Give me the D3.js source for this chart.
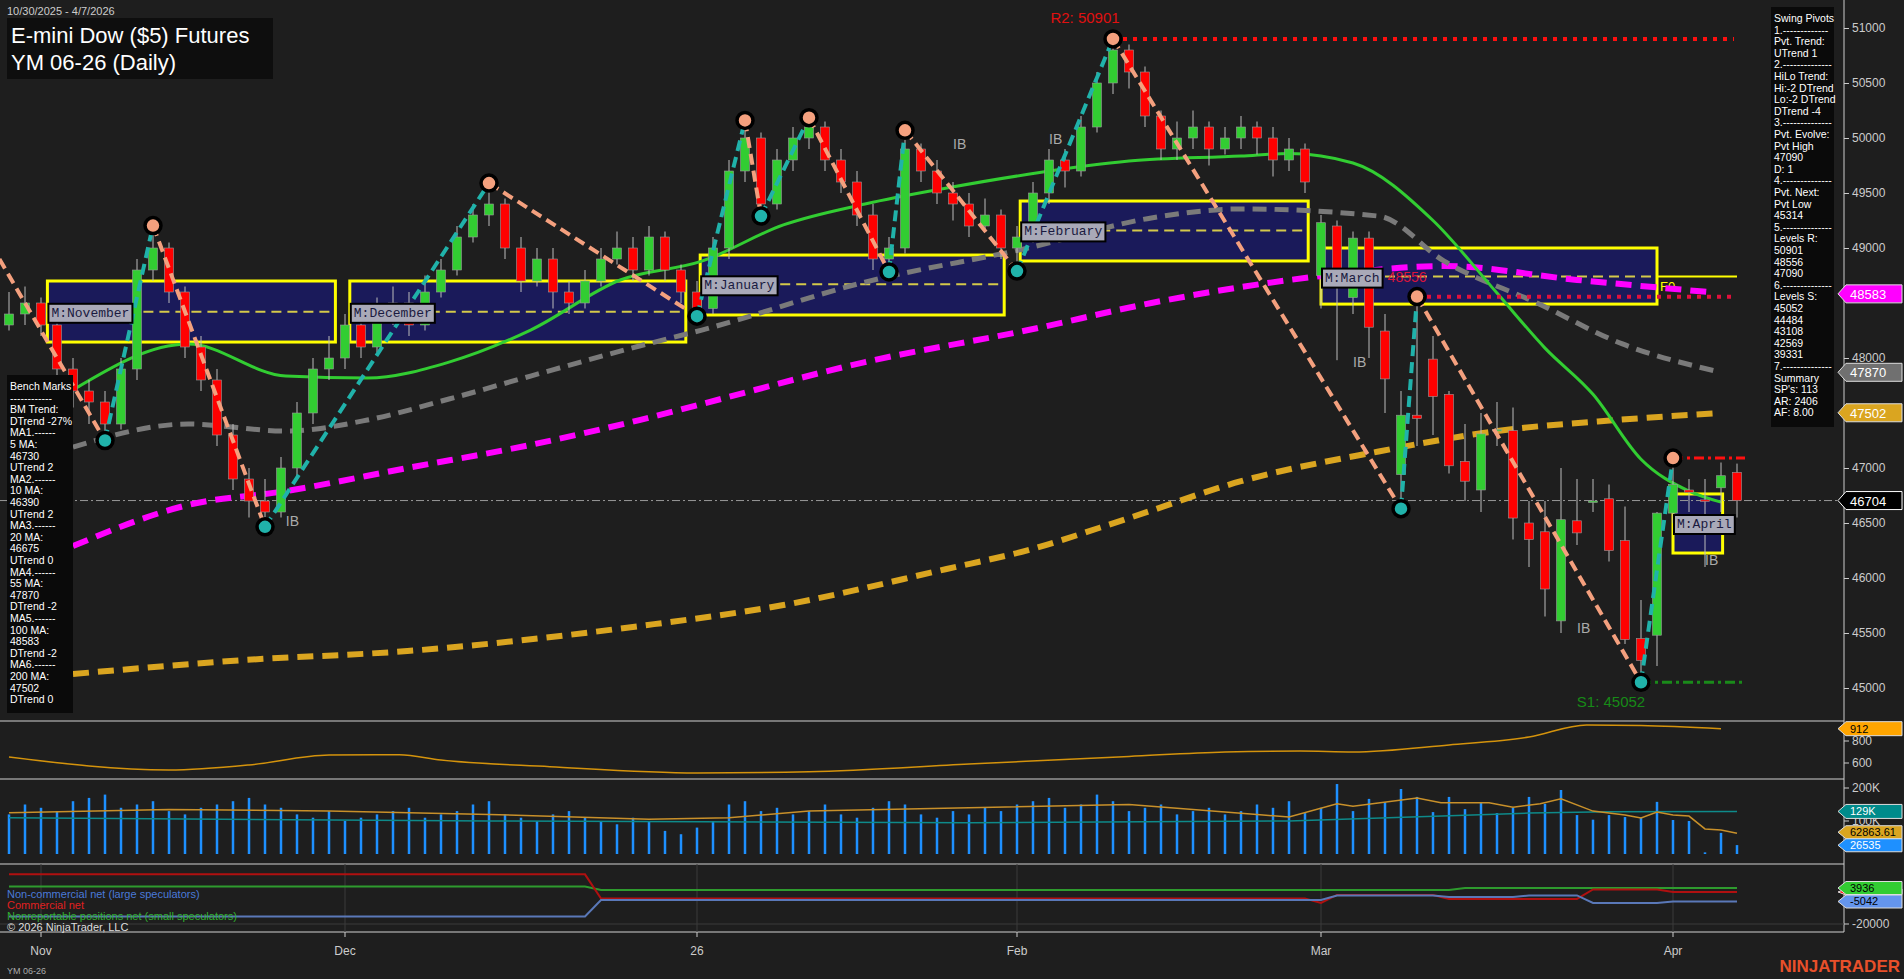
<!DOCTYPE html>
<html><head><meta charset="utf-8">
<script src="https://cdn.jsdelivr.net/npm/d3@7"></script>
<style>body{margin:0;background:#1e1e1e;overflow:hidden}svg{display:block;font-family:"Liberation Sans",Arial,sans-serif}</style>
</head><body><svg id="c" width="1904" height="979"></svg>
<script>
// ---------- DATA ----------
const closesA=[48400,48500,48300,47900,47700,47600,47400,47900,48800,49000,
48600,48100,47800,47300,46900,46700,46600,47000,47500,47900,
48000,48300,48100,48400,48500,48300,48600,48800,49100,49300,
49400,49000,48700,48900,48600,48500,48700,48900,49000,48800,
49100,48800,48600,48450,49000,49700,50000,49400,49800,50000,
50100,49800,49600,49300,48900,49000,49900,49700,49500,49400,
49200,49300,49000,49100,49500,49800,49700,50100,50500,50800,
50600,50200,49900,50000,50100,49900,50000,50100,50000,49800,49900,49600];
const highsA=[48600,48650,48550,48350,48000,47800,47700,48000,48900,49200,
49050,48650,48200,47900,47400,47000,46900,47100,47600,48000,
48200,48400,48400,48550,48650,48600,48750,48900,49200,49400,
49590,49450,49100,49000,49000,48700,48800,49000,49150,49100,
49200,49150,48850,48700,49100,49800,50150,50050,49900,50100,
50180,50150,49900,49700,49400,49100,50070,49950,49800,49600,
49500,49450,49350,49200,49600,49900,49900,50200,50600,50870,
50850,50650,50250,50150,50250,50150,50100,50200,50150,50100,50000,49950];
const lowsA=[48250,48300,48200,47800,47550,47400,47250,47350,47800,48700,
48500,48000,47700,47200,46800,46550,46470,46550,46900,47400,
47800,47900,48000,48050,48300,48200,48250,48550,48750,49050,
49200,48900,48600,48650,48450,48400,48450,48650,48850,48700,
48750,48700,48500,48370,48400,48900,49600,49280,49350,49700,
49900,49700,49500,49200,48800,48790,48950,49600,49400,49250,
49100,49150,48900,48790,49050,49400,49550,49650,50050,50400,
50450,50100,49800,49800,49900,49750,49850,49900,49850,49650,49700,49500];
// bars 82..108 as [open,high,low,close]
const tailOHLC=[[48750,49300,48450,49230],[49200,49250,47980,48800],[48550,49150,48400,49090],[49090,49150,48000,48280],
[48245,48400,47500,47810],[46940,47700,46630,47480],[47480,48558,47200,47450],[47990,48200,47300,47650],
[47670,47700,46950,47020],[47060,47400,46700,46880],[46800,47500,46600,47310],[47350,47600,47200,47350],
[47340,47550,46350,46545],[46500,46700,46100,46350],[46420,46700,45650,45900],[45610,47000,45500,46530],
[46520,46900,46300,46410],[46700,46900,46600,46700],[46720,46850,46150,46250],[46340,46650,45400,45440],
[45450,45800,45052,45250],[45480,46600,45200,46590],[46590,47090,46500,46850],[46800,46900,46600,46780],
[46710,46900,46100,46700],[46820,47050,46600,46930],[46960,47040,46550,46704]];
const volumeK=[120,150,140,130,160,170,180,140,150,160,
130,120,140,150,160,170,150,140,120,110,
130,100,110,120,130,140,110,120,130,150,
160,120,110,100,120,130,110,100,90,110,
100,70,60,80,100,150,160,130,140,120,
130,150,120,110,140,160,150,120,110,130,
120,140,130,150,160,170,140,150,180,160,
130,140,150,120,130,140,120,130,150,140,160,
124,140,212,130,167,157,197,173,127,173,136,155,124,140,173,152,194,118,104,118,112,110,158,103,100,5,64,27];
const volAvgPts=[[0,125],[10,135],[20,130],[30,120],[40,105],[45,110],[50,130],[60,140],[70,150],[78,120],[80,112],[83,152],[84,145],[88,170],[89.5,155],[92.5,155],[94,142],[95.7,152],[97,167],[99,130],[101,118],[102,109],[103,127],[104,118],[105,115],[106,76],[107,73],[108,63]];
const oiPts=[[0,110],[30,100],[60,95],[80,100],[95,124],[100,128],[108,129]];
const atrPts=[[0,654],[10,536],[15,582],[20,673],[24.4,676],[27,627],[33.8,566],[43,509],[50,520],[60,590],[70,660],[76,700],[80.7,709],[84,700],[90,764],[95,836],[98.6,945],[102,940],[107,912]];
const cotRed=[[0,13000],[36,13000],[37,-3000],[81,-3000],[82,-6000],[83,-700],[89,-700],[90,-3300],[98,-3300],[99,3000],[103,3000],[104,1300],[108,1300]];
const cotBlue=[[0,-15000],[36,-15000],[37,-4000],[82,-4000],[83,-1000],[89,-1000],[90,-2000],[94,-2000],[95,-1000],[98,-1000],[99,-6000],[103,-6000],[104,-5042],[108,-5042]];
const cotGreen=[[0,5000],[36,5000],[37,2600],[90,2600],[91,3936],[108,3936]];
const ma20=[[4,47710],[11.2,48127],[17.3,47836],[22.4,47818],[27.5,47963],[32.6,48254],[38.2,48709],[43.3,48880],[48.4,49210],[53.5,49400],[58.6,49545],[63.7,49670],[70,49790],[77,49836],[80,49860],[84,49773],[89,49250],[93,48590],[96,48090],[99,47670],[102,47080],[105,46790],[107,46690]];
const ma55=[[4,47190],[11.2,47400],[17.3,47336],[22.4,47436],[27.5,47627],[32.6,47836],[39.4,48109],[43.3,48254],[53.5,48690],[63.7,49000],[71.4,49273],[77,49355],[85.6,49290],[89.7,48880],[95.5,48500],[100.8,48130],[107,47870]];
const ma100=[[4,46290],[11.2,46664],[17.3,46790],[24.9,47000],[32.6,47210],[39.4,47436],[43.3,47582],[53.5,47963],[63.7,48254],[71.4,48500],[77,48645],[82.3,48750],[89.7,48836],[98,48710],[106.2,48600]];
const ma200=[[4,45127],[14.7,45254],[24.9,45336],[39.4,45563],[48.4,45754],[58.6,46082],[63.7,46254],[70,46545],[77,46880],[85.6,47150],[93,47336],[100.8,47440],[107,47500]];
const pivots=[[-0.6,48900,"S"],[6,47250,"L"],[9,49204,"H"],[16,46465,"L"],[30,49590,"H"],[43,48380,"L"],[46,50160,"H"],[47,49290,"L"],[50,50185,"H"],[55,48782,"L"],[56,50070,"H"],[63,48790,"L"],[69,50901,"H"],[87,46630,"L"],[88,48558,"H"],[102,45052,"L"],[104,47090,"H"]];
const months=[["M:November",2.4,20.4,48700,48145,48420],["M:December",21.3,42.3,48700,48145,48420],["M:January",43.2,62.2,48936,48391,48670],["M:February",63.2,81.2,49427,48882,49160],["M:March",82,103,49000,48490,48740],["M:April",104,107.1,46764,46227,46500]];
const dateTicks=[[2,"Nov"],[21,"Dec"],[43,"26"],[63,"Feb"],[82,"Mar"],[104,"Apr"]];
const priceTicks=[45000,45500,46000,46500,47000,47500,48000,49000,49500,50000,50500,51000];
const ibLabels=[[17.3,46470],[59,49900],[65,49950],[84,47920],[98,45500],[106,46120]];
const swingText=["Swing Pivots","1.-------------","Pvt. Trend:","UTrend 1","2.--------------","HiLo Trend:","Hi:-2 DTrend","Lo:-2 DTrend","DTrend -4","3.--------------","Pvt. Evolve:","Pvt High","47090","D: 1","4.--------------","Pvt. Next:","Pvt Low","45314","5.--------------","Levels R:","50901","48556","47090","6.--------------","Levels S:","45052","44484","43108","42569","39331","7.--------------","Summary","SP's: 113","AR: 2406","AF: 8.00"];
const benchText=["Bench Marks","------------","BM Trend:","DTrend -27%","MA1.------","5 MA:","46730","UTrend 2","MA2.------","10 MA:","46390","UTrend 2","MA3.------","20 MA:","46675","UTrend 0","MA4.------","55 MA:","47870","DTrend -2","MA5.------","100 MA:","48583","DTrend -2","MA6.------","200 MA:","47502","DTrend 0"];

// ---------- BUILD ----------
const bars=[];
for(let i=0;i<82;i++) bars.push({i,o:i?closesA[i-1]:48300,h:highsA[i],l:lowsA[i],c:closesA[i]});
tailOHLC.forEach((d,k)=>bars.push({i:82+k,o:d[0],h:d[1],l:d[2],c:d[3]}));

const svg=d3.select("#c");
const AX=1844;
const x=d3.scaleLinear().domain([0,108]).range([9,1737]);
const y=d3.scaleLinear().domain([45000,51000]).range([688,28]);
const y2=d3.scaleLinear().domain([600,800]).range([763,741]);
const y3=d3.scaleLinear().domain([0,200]).range([854,788]);
const y4=d3.scaleLinear().domain([-20000,3936]).range([924,888]);

svg.append("rect").attr("width",1904).attr("height",979).attr("fill","#1e1e1e");
svg.append("clipPath").attr("id","pc").append("rect").attr("x",0).attr("y",0).attr("width",AX).attr("height",721);
const P=svg.append("g").attr("clip-path","url(#pc)");

months.forEach(m=>{
  const x0=x(m[1]),x1=x(m[2]);
  P.append("rect").attr("x",x0).attr("y",y(m[3])).attr("width",x1-x0).attr("height",y(m[4])-y(m[3])).attr("fill","#1a1a5a").attr("stroke","#ffff00").attr("stroke-width",3);
  P.append("line").attr("x1",x0).attr("x2",x1).attr("y1",y(m[5])).attr("y2",y(m[5])).attr("stroke","#d4c94a").attr("stroke-width",2).attr("stroke-dasharray","10,6");
});
P.append("line").attr("x1",x(103)).attr("x2",x(108)).attr("y1",y(48740)).attr("y2",y(48740)).attr("stroke","#ffff00").attr("stroke-width",2);
P.append("text").attr("x",x(103)+3).attr("y",y(48740)+14).attr("fill","#ffff00").attr("font-size",13).text("F0");

P.append("line").attr("x1",0).attr("x2",AX).attr("y1",y(46704)).attr("y2",y(46704)).attr("stroke","#999").attr("stroke-width",1).attr("stroke-dasharray","8,3,2,3");

const ln=d3.line().x(d=>x(d[0])).y(d=>y(d[1])).curve(d3.curveMonotoneX);
P.append("path").attr("d",ln(ma200)).attr("fill","none").attr("stroke","#daa520").attr("stroke-width",6).attr("stroke-dasharray","16,9");
P.append("path").attr("d",ln(ma100)).attr("fill","none").attr("stroke","#ff00ff").attr("stroke-width",6).attr("stroke-dasharray","16,9");
P.append("path").attr("d",ln(ma55)).attr("fill","none").attr("stroke","#7a7a7a").attr("stroke-width",5).attr("stroke-dasharray","14,8");
P.append("path").attr("d",ln(ma20)).attr("fill","none").attr("stroke","#32cd32").attr("stroke-width",3);

P.append("line").attr("x1",x(69)).attr("x2",1734).attr("y1",y(50901)).attr("y2",y(50901)).attr("stroke","#ff1010").attr("stroke-width",4).attr("stroke-dasharray","4,6");
P.append("line").attr("x1",x(88)).attr("x2",1734).attr("y1",y(48556)).attr("y2",y(48556)).attr("stroke","#e0103c").attr("stroke-width",4).attr("stroke-dasharray","4,6");
P.append("line").attr("x1",x(104)).attr("x2",1745).attr("y1",y(47090)).attr("y2",y(47090)).attr("stroke","#ff1010").attr("stroke-width",3).attr("stroke-dasharray","10,4,3,4");
P.append("line").attr("x1",x(102)).attr("x2",1745).attr("y1",y(45052)).attr("y2",y(45052)).attr("stroke","#1a8a1a").attr("stroke-width",3).attr("stroke-dasharray","10,4,3,4");
P.append("text").attr("x",1085).attr("y",23).attr("fill","#e01010").attr("font-size",15).attr("text-anchor","middle").text("R2: 50901");
P.append("text").attr("x",1611).attr("y",707).attr("fill","#178a17").attr("font-size",15).attr("text-anchor","middle").text("S1: 45052");

const cw=9;
const cg=P.append("g");
bars.forEach(b=>{
  const cx=x(b.i);
  cg.append("line").attr("x1",cx).attr("x2",cx).attr("y1",y(b.h)).attr("y2",y(b.l)).attr("stroke","#bbbbbb").attr("stroke-width",1);
  const top=y(Math.max(b.o,b.c)),bot=y(Math.min(b.o,b.c));
  cg.append("rect").attr("x",cx-cw/2).attr("y",top).attr("width",cw).attr("height",Math.max(1.5,bot-top))
    .attr("fill",b.c>=b.o?"#32cd32":"#ff0000").attr("stroke","#9a9a9a").attr("stroke-width",0.6);
});

for(let k=0;k<pivots.length-1;k++){
  const a=pivots[k],b=pivots[k+1];
  P.append("line").attr("x1",x(a[0])).attr("y1",y(a[1])).attr("x2",x(b[0])).attr("y2",y(b[1]))
   .attr("stroke",b[1]<a[1]?"#f4a07e":"#20b2aa").attr("stroke-width",4).attr("stroke-dasharray","11,6");
}
pivots.filter(p=>p[2]!="S").forEach(p=>{
  P.append("circle").attr("cx",x(p[0])).attr("cy",y(p[1])).attr("r",8).attr("fill",p[2]=="H"?"#f4a07e":"#20b2aa").attr("stroke","#000").attr("stroke-width",3.5);
});

let marchRight=0;
months.forEach(m=>{
  const g=P.append("g");
  const t=g.append("text").attr("x",x(m[1])+4).attr("y",y(m[5])+5).attr("font-family","Liberation Mono,DejaVu Sans Mono,monospace").attr("font-size",13).attr("fill","#1a1a40").text(m[0]);
  const bb=t.node().getBBox();
  if(m[0]=="M:March") marchRight=bb.x+bb.width+6;
  g.insert("rect","text").attr("x",bb.x-3).attr("y",bb.y-2).attr("width",bb.width+6).attr("height",bb.height+4).attr("fill","#a9a9b8").attr("stroke","#000").attr("stroke-width",2);
});
P.append("text").attr("x",marchRight+2).attr("y",y(48740)+5).attr("fill","#dc143c").attr("font-size",14).text("48556");
ibLabels.forEach(d=>P.append("text").attr("x",x(d[0])).attr("y",y(d[1])).attr("fill","#aaaaaa").attr("font-size",14).text("IB"));

svg.append("text").attr("x",7).attr("y",15).attr("fill","#cccccc").attr("font-size",11).text("10/30/2025 - 4/7/2026");
svg.append("rect").attr("x",7).attr("y",18).attr("width",266).attr("height",61).attr("fill","#0e0e0e");
svg.append("text").attr("x",11).attr("y",43).attr("fill","#fff").attr("font-size",22).text("E-mini Dow ($5) Futures");
svg.append("text").attr("x",11).attr("y",70).attr("fill","#fff").attr("font-size",22).text("YM 06-26 (Daily)");

function infoBox(x0,y0,w,lines,h){
  svg.append("rect").attr("x",x0).attr("y",y0).attr("width",w).attr("height",h).attr("fill","#0a0a0a");
  lines.forEach((t,k)=>svg.append("text").attr("x",x0+3).attr("y",y0+15+k*11.6).attr("fill","#fff").attr("font-size",10.5).text(t));
}
infoBox(1771,7,63,swingText,420);
infoBox(7,375,66,benchText,338);

const ax=svg.append("g").attr("transform",`translate(${AX},0)`).call(d3.axisRight(y).tickValues(priceTicks).tickSize(5).tickFormat(d3.format("d")));
ax.selectAll("text").attr("fill","#cccccc").attr("font-size",12).attr("font-family","Liberation Sans,Arial");
ax.selectAll("line").attr("stroke","#ccc");ax.select(".domain").remove();
svg.append("line").attr("x1",AX).attr("x2",AX).attr("y1",0).attr("y2",932).attr("stroke","#ccc");
[721,779,864,932].forEach(v=>svg.append("line").attr("x1",0).attr("x2",AX).attr("y1",v).attr("y2",v).attr("stroke","#cfcfcf").attr("stroke-width",1.2));

function flag(yv,txt,bg,fg,border,h){
  h=h||9;
  const g=svg.append("g");
  g.append("path").attr("d",`M${AX-6},${yv} L${AX+2},${yv-h} L1902,${yv-h} L1902,${yv+h} L${AX+2},${yv+h} Z`).attr("fill",bg).attr("stroke",border||"#ddd").attr("stroke-width",1);
  g.append("text").attr("x",AX+6).attr("y",yv+h/2+0.5).attr("fill",fg).attr("font-size",h>7?13:11).text(txt);
}
flag(y(48583),"48583","#ff00ff","#fff");
flag(y(47870),"47870","#707070","#fff");
flag(y(47502),"47502","#daa520","#fff");
flag(y(46704),"46704","#000","#fff","#fff");

const ln2=d3.line().x(d=>x(d[0])).y(d=>y2(d[1])).curve(d3.curveMonotoneX);
svg.append("path").attr("d",ln2(atrPts)).attr("fill","none").attr("stroke","#d4930c").attr("stroke-width",1.5);
[[600,"600"],[800,"800"]].forEach(t=>{svg.append("line").attr("x1",AX).attr("x2",AX+5).attr("y1",y2(t[0])).attr("y2",y2(t[0])).attr("stroke","#ccc");svg.append("text").attr("x",AX+8).attr("y",y2(t[0])+4).attr("fill","#ccc").attr("font-size",12).text(t[1]);});
flag(y2(912),"912","#ffa500","#000",null,7);

const vg=svg.append("g");
volumeK.forEach((v,i)=>vg.append("line").attr("x1",x(i)).attr("x2",x(i)).attr("y1",y3(0)).attr("y2",y3(v)).attr("stroke","#1e90ff").attr("stroke-width",2.5));
const ln3=d3.line().x(d=>x(d[0])).y(d=>y3(d[1]));
svg.append("path").attr("d",ln3(oiPts)).attr("fill","none").attr("stroke","#0e8a8a").attr("stroke-width",1.5);
svg.append("path").attr("d",ln3(volAvgPts)).attr("fill","none").attr("stroke","#c8902a").attr("stroke-width",1.5);
[[200,"200K"],[100,"100K"]].forEach(t=>{svg.append("line").attr("x1",AX).attr("x2",AX+5).attr("y1",y3(t[0])).attr("y2",y3(t[0])).attr("stroke","#ccc");svg.append("text").attr("x",AX+8).attr("y",y3(t[0])+4).attr("fill","#ccc").attr("font-size",12).text(t[1]);});
flag(y3(129),"129K","#008b8b","#fff",null,7);
flag(y3(66),"62863.61","#daa520","#000",null,6.5);
flag(y3(26.5),"26535","#1e90ff","#fff",null,6.5);

dateTicks.forEach(d=>svg.append("line").attr("x1",x(d[0])).attr("x2",x(d[0])).attr("y1",864).attr("y2",932).attr("stroke","#3a3a3a"));
svg.append("line").attr("x1",0).attr("x2",AX).attr("y1",y4(-20000)).attr("y2",y4(-20000)).attr("stroke","#3a3a3a");
const ln4=d3.line().x(d=>x(d[0])).y(d=>y4(d[1]));
svg.append("path").attr("d",ln4(cotGreen)).attr("fill","none").attr("stroke","#2e9b2e").attr("stroke-width",2);
svg.append("path").attr("d",ln4(cotRed)).attr("fill","none").attr("stroke","#b01010").attr("stroke-width",2);
svg.append("path").attr("d",ln4(cotBlue)).attr("fill","none").attr("stroke","#5a78b8").attr("stroke-width",2);
svg.append("line").attr("x1",AX).attr("x2",AX+5).attr("y1",y4(-20000)).attr("y2",y4(-20000)).attr("stroke","#ccc");
svg.append("text").attr("x",AX+8).attr("y",y4(-20000)+4).attr("fill","#ccc").attr("font-size",12).text("-20000");
flag(y4(1300),"","#ff0000","#fff",null,3);
flag(y4(-5042),"-5042","#6495ed","#000",null,6.5);
flag(y4(3936),"3936","#32cd32","#000",null,6.5);
svg.append("text").attr("x",7).attr("y",898).attr("fill","#4a7ad8").attr("font-size",11).text("Non-commercial net (large speculators)");
svg.append("text").attr("x",7).attr("y",909).attr("fill","#e02020").attr("font-size",11).text("Commercial net");
svg.append("text").attr("x",7).attr("y",920).attr("fill","#30b030").attr("font-size",11).text("Nonreportable positions net (small speculators)");
svg.append("text").attr("x",7).attr("y",931).attr("fill","#ddd").attr("font-size",11).text("© 2026 NinjaTrader, LLC");

dateTicks.forEach(d=>{svg.append("line").attr("x1",x(d[0])).attr("x2",x(d[0])).attr("y1",932).attr("y2",937).attr("stroke","#ccc");
 svg.append("text").attr("x",x(d[0])).attr("y",955).attr("text-anchor","middle").attr("fill","#ccc").attr("font-size",12).text(d[1]);});
svg.append("text").attr("x",7).attr("y",974).attr("fill","#aaa").attr("font-size",9).text("YM 06-26");
svg.append("text").attr("x",1900).attr("y",972).attr("text-anchor","end").attr("fill","#e8502a").attr("font-size",17).attr("font-weight","bold").text("NINJATRADER");
</script></body></html>
